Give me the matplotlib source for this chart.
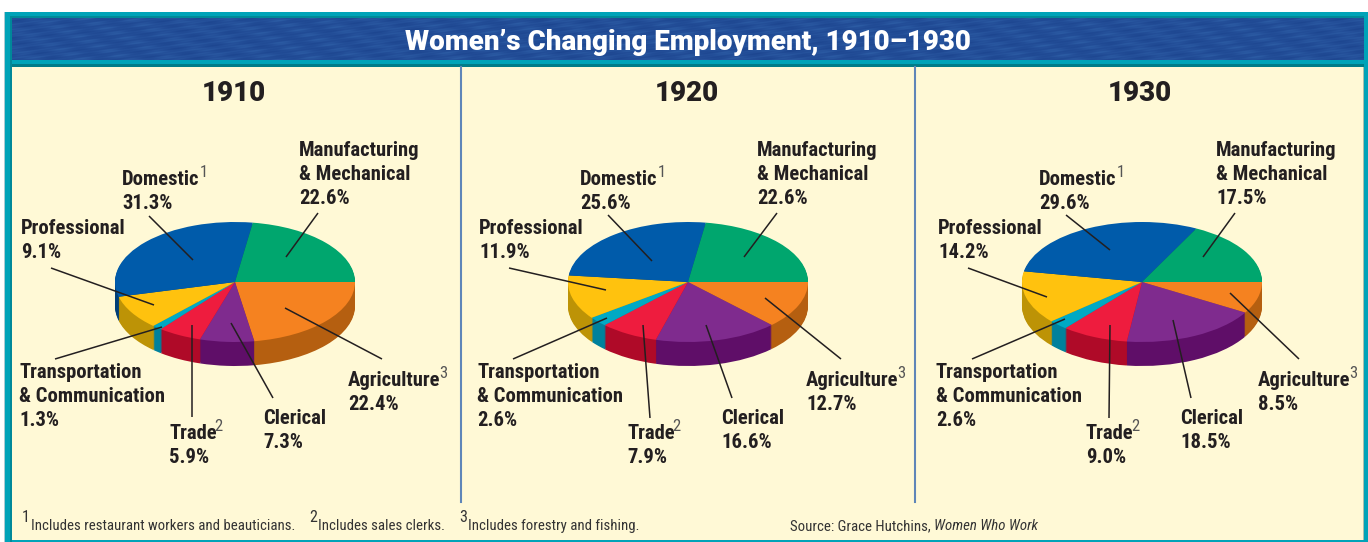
import numpy as np
import matplotlib
matplotlib.use("Agg")
import matplotlib.pyplot as plt
from matplotlib.colors import LinearSegmentedColormap
from matplotlib.patches import Rectangle

W, H = 1368, 542

years = ["1910", "1920", "1930"]
categories = ["Agriculture", "Clerical", "Trade", "Transportation", "Professional", "Domestic", "Manufacturing"]
share_1910 = [22.4, 7.3, 5.9, 1.3, 9.1, 31.3, 22.6]
share_1920 = [12.7, 16.6, 7.9, 2.6, 11.9, 25.6, 22.6]
share_1930 = [8.5, 18.5, 9.0, 2.6, 14.2, 29.6, 17.5]
shares = [share_1910, share_1920, share_1930]

top_colors = ["#F58220", "#7F2B8E", "#EE1C3E", "#00A9C4", "#FFC20E", "#005BAA", "#00A66E"]
side_colors = ["#B55F10", "#5F0E68", "#AF0A28", "#00819C", "#BD9306", "#003F78", "#007A50"]

# pixel layout of each panel
pie_cx = [235, 688, 1142]
year_cx = [234, 687, 1140]
pie_cy, rx, ry, depth = 282, 120, 60, 24
panel_dx = [0, 458, 917]
agri_dx = [0, 458, 910]

# (x0, y0, x1, y1) in image pixels, same order as categories
leaders_1910 = [(382, 359, 285, 308), (273, 398, 231, 323), (192, 417, 192, 325), (55, 359, 162, 327),
                (51, 268, 154, 305), (149, 216, 193, 260), (318, 213, 286, 257)]
leaders_1920 = [(841, 359, 765, 298), (732, 398, 706, 325), (650, 418, 643, 325), (513, 359, 607, 318),
                (509, 268, 606, 290), (608, 215, 652, 261), (777, 213, 744, 257)]
leaders_1930 = [(1299, 359, 1230, 293), (1191, 398, 1173, 320), (1109, 418, 1110, 325), (972, 359, 1065, 319),
                (968, 268, 1047, 297), (1066, 215, 1110, 250), (1235, 213, 1203, 257)]
leaders = [leaders_1910, leaders_1920, leaders_1930]

NARROW = "Roboto Condensed"
INK = "#231F20"
HEAVY = {"family": "Roboto", "weight": 900}


def pct(v):
    return "{:.1f}%".format(v)


def px_rect(x0, y0, x1, y1):
    return [x0 / W, 1 - y1 / H, (x1 - x0) / W, (y1 - y0) / H]


fig = plt.figure(figsize=(W / 100, H / 100), dpi=100, facecolor="white")

bg = fig.add_axes([0, 0, 1, 1], zorder=0)
bg.axis("off")

# frame, banner, cream panel
bg.add_patch(Rectangle((4, 12), 1.5, 530, fc="#A9CBD3", ec="none"))
bg.add_patch(Rectangle((5, 12), 1363, 530, fc="#00A3B8", ec="none"))
bg.add_patch(Rectangle((9.5, 16), 2.5, 526, fc="#008899", ec="none"))
bg.add_patch(Rectangle((9.5, 16), 1354.5, 2, fc="#008A98", ec="none"))
bg.add_patch(Rectangle((12, 67), 1352, 473, fc="#FFF9D6", ec="none"))
bg.add_patch(Rectangle((1362.5, 67), 1.5, 473, fc="#A8BFAE", ec="none"))
yy, xx = np.mgrid[0:42, 0:1352]
weave = (np.sin(xx * 0.11 + yy * 0.4) * np.sin(xx * 0.023 - yy * 0.7)
         + 0.6 * np.sin(xx * 0.31 + yy * 1.7) * np.sin(xx * 0.057 + yy * 0.9))
banner_map = LinearSegmentedColormap.from_list("banner", ["#1D4690", "#234E98", "#2C5CA4"])
bg.imshow(weave, extent=(12, 1364, 60, 18), cmap=banner_map, aspect="auto", zorder=1)
bg.set_xlim(0, W)
bg.set_ylim(H, 0)
bg.add_patch(Rectangle((12, 64), 1352, 3, fc="#007C88", ec="none", zorder=2))
for x in [461, 915]:
    bg.plot([x, x], [67, 502], color="#5F86B8", lw=1.5, zorder=2)

# pies: stack of dark pies for the rim, bright one on top
for i, vals in enumerate(shares):
    ax = fig.add_axes(px_rect(pie_cx[i] - 130, pie_cy - 70, pie_cx[i] + 130, pie_cy + 100), zorder=1)
    for d in range(depth, 0, -1):
        ax.pie(vals, colors=side_colors, startangle=0, counterclock=False, center=(0, -d / ry),
               wedgeprops={"linewidth": 0})
    ax.pie(vals, colors=top_colors, startangle=0, counterclock=False, wedgeprops={"linewidth": 0})
    ax.set_aspect("auto")
    ax.set_xlim(-130 / rx, 130 / rx)
    ax.set_ylim(-100 / ry, 70 / ry)
    ax.patch.set_visible(False)

fg = fig.add_axes([0, 0, 1, 1], zorder=2)
fg.set_xlim(0, W)
fg.set_ylim(H, 0)
fg.axis("off")


def label(x, y, s):
    fg.text(x, y, s, family=NARROW, weight="bold", fontsize=14.9, color=INK, va="baseline", ha="left")


def sup(x, y, s):
    fg.text(x, y, s, family=NARROW, fontsize=12, color="#555555", va="baseline", ha="left")


fg.text(688, 50, "Women\u2019s Changing Employment, 1910\u20131930", color="white", fontsize=20,
        ha="center", va="baseline", **HEAVY)

for i, vals in enumerate(shares):
    fg.text(year_cx[i], 101, years[i], color=INK, fontsize=20, ha="center", va="baseline", **HEAVY)
    for x0, y0, x1, y1 in leaders[i]:
        fg.plot([x0, x1], [y0, y1], color=INK, lw=1.1, solid_capstyle="butt")
    dx = panel_dx[i]
    label(299 + dx, 156, "Manufacturing")
    label(299 + dx, 180, "& Mechanical")
    label(299 + dx, 204, pct(vals[6]))
    label(122 + dx, 185, "Domestic")
    label(122 + dx, 209, pct(vals[5]))
    sup(200 + dx, 177, "1")
    label(21 + dx, 234, "Professional")
    label(21 + dx, 258, pct(vals[4]))
    label(19 + dx, 378, "Transportation")
    label(19 + dx, 402, "& Communication")
    label(19 + dx, 426, pct(vals[3]))
    label(169 + dx, 439, "Trade")
    label(169 + dx, 463, pct(vals[2]))
    sup(214 + dx, 431, "2")
    label(263 + dx, 424, "Clerical")
    label(263 + dx, 448, pct(vals[1]))
    label(348 + agri_dx[i], 386, "Agriculture")
    label(348 + agri_dx[i], 410, pct(vals[0]))
    sup(439 + agri_dx[i], 378, "3")

# footnotes
foot_notes = ["Includes restaurant workers and beauticians.", "Includes sales clerks.", "Includes forestry and fishing."]
foot_x = [31, 318, 468]
for n, (s, x) in enumerate(zip(foot_notes, foot_x)):
    fg.text(x, 530, s, family=NARROW, fontsize=10.75, color="#333333", va="baseline")
    fg.text(x - 9, 522, str(n + 1), family=NARROW, fontsize=11.5, color="#333333", va="baseline")
fg.text(790, 530, "Source: Grace Hutchins,", family=NARROW, fontsize=10.75, color="#333333", va="baseline")
fg.text(934, 530, "Women Who Work", family=NARROW, style="italic", fontsize=10.75, color="#333333", va="baseline")

fig.savefig("out.png", dpi=100, facecolor="white")
